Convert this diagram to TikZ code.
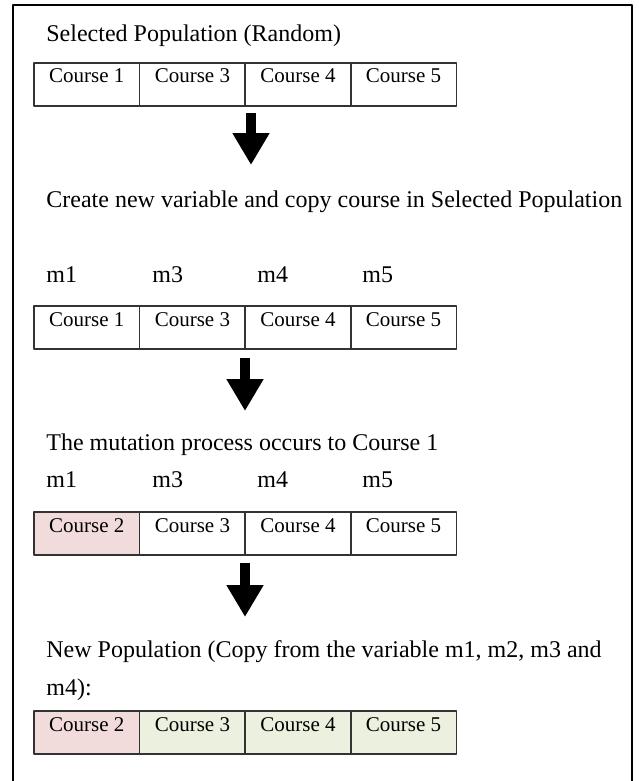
\documentclass[tikz,border=0pt]{standalone}
\usepackage{fontspec}
\setmainfont{Liberation Serif}
\usetikzlibrary{arrows.meta,positioning}
\definecolor{mutationpink}{RGB}{242,220,219}
\definecolor{copygreen}{RGB}{235,241,222}
\newcommand\bodyfont{\fontsize{12}{14}\selectfont}
\newcommand\cellfont{\fontsize{10.5}{12}\selectfont}

\begin{document}
\begin{tikzpicture}[x=.5pt,y=-.5pt,line cap=round,line join=round,
  cell/.style={draw=black!80,line width=.75pt,minimum width=52.8pt,
   inner xsep=1pt,inner ysep=2pt,outer sep=0pt,
   text height=8pt,text depth=9.5pt,font=\cellfont,anchor=north west},
  lbl/.style={anchor=base west,inner sep=0pt,font=\bodyfont},
  bigarrow/.style={line width=5pt,line cap=butt,
   -{Triangle[width=17.5pt,length=16pt]}}]
 \useasboundingbox (0,0) rectangle (638,781);
 % frame, open at the bottom
 \draw[line width=1.4pt,line cap=butt]
  (13,790)--(13,5)--(632,5)--(632,790);

 % selected population
 \node[lbl] (t1) at (46,42) {Selected Population (Random)};
 \node[cell] (r1c1) at (34,63) {Course 1};
 \node[cell,right=0pt of r1c1] (r1c2) {Course 3};
 \node[cell,right=0pt of r1c2] (r1c3) {Course 4};
 \node[cell,right=0pt of r1c3] (r1c4) {Course 5};
 \coordinate (a1s) at (251,113);
 \coordinate (a1e) at (251,165);
 \draw[bigarrow] (a1s)--(a1e);

 % copy into variables
 \node[lbl] (t2) at (46,207)
  {Create new variable and copy course in Selected Population};
 \foreach \x/\m in {46/m1,152/m3,257/m4,362/m5}{
  \node[lbl] (v\m) at (\x,282) {\m};
 }
 \node[cell] (r2c1) at (34,306) {Course 1};
 \node[cell,right=0pt of r2c1] (r2c2) {Course 3};
 \node[cell,right=0pt of r2c2] (r2c3) {Course 4};
 \node[cell,right=0pt of r2c3] (r2c4) {Course 5};
 \coordinate (a2s) at (245,358);
 \coordinate (a2e) at (245,411);
 \draw[bigarrow] (a2s)--(a2e);

 % mutation
 \node[lbl] (t3) at (46,450) {The mutation process occurs to Course 1};
 \foreach \x/\m in {46/m1,152/m3,257/m4,362/m5}{
  \node[lbl] (w\m) at (\x,487) {\m};
 }
 \node[cell,fill=mutationpink] (r3c1) at (34,512) {Course 2};
 \node[cell,right=0pt of r3c1] (r3c2) {Course 3};
 \node[cell,right=0pt of r3c2] (r3c3) {Course 4};
 \node[cell,right=0pt of r3c3] (r3c4) {Course 5};
 \coordinate (a3s) at (245,563);
 \coordinate (a3e) at (245,617);
 \draw[bigarrow] (a3s)--(a3e);

 % new population
 \node[lbl] (t4) at (46,657)
  {New Population (Copy from the variable m1, m2, m3 and};
 \node[lbl] (t4b) at (46,695) {m4):};
 \node[cell,fill=mutationpink] (r4c1) at (34,711) {Course 2};
 \node[cell,fill=copygreen,right=0pt of r4c1] (r4c2) {Course 3};
 \node[cell,fill=copygreen,right=0pt of r4c2] (r4c3) {Course 4};
 \node[cell,fill=copygreen,right=0pt of r4c3] (r4c4) {Course 5};
\end{tikzpicture}
\end{document}
